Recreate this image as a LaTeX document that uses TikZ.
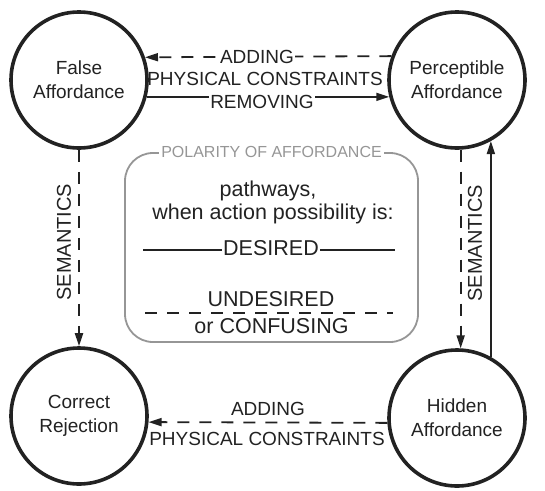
\documentclass[tikz,border=0pt]{standalone}
\usepackage{fontspec}
\setmainfont{Liberation Sans}
\usetikzlibrary{arrows.meta}

\definecolor{ink}{RGB}{34,34,34}
\definecolor{legendgray}{RGB}{150,150,150}

\tikzset{
	state/.style={draw=ink, line width=3.6pt, circle, minimum size=136pt, inner sep=0pt, align=center, text=ink, font=\fontsize{19}{24}\selectfont},
	pathway/.style={draw=ink, line width=1.8pt, -{Triangle[length=13pt,width=8pt]}},
	undesired/.style={dash pattern=on 12pt off 10pt},
	lbl/.style={text=ink, inner sep=1.5pt, font=\fontsize{19}{22}\selectfont},
	legendtext/.style={text=ink, inner sep=1pt, font=\fontsize{21.5}{24}\selectfont},
	sample/.style={draw=ink, line width=1.8pt}
}

\begin{document}
\begin{tikzpicture}[x=1pt, y=-1pt]
	\useasboundingbox (0,0) rectangle (545,490);

	\node [state] (false) at (79,80) {False\\Affordance};
	\node [state] (percept) at (457,80) {Perceptible\\Affordance};
	\node [state] (reject) at (79,416) {Correct\\Rejection};
	\node [state] (hidden) at (457,418) {Hidden\\Affordance};

	\draw [pathway, undesired] (percept.160.2) -- (false.19.8);
	\node [lbl, fill=white] (addtop) at (257,57) {ADDING};
	\node [lbl] (phystop) at (265,79) {PHYSICAL CONSTRAINTS};
	\draw [pathway] (false.-14.5) -- (percept.194.5);
	\node [lbl, fill=white] (removing) at (262,102) {REMOVING};

	\draw [pathway, undesired] (false.south) -- (reject.north);
	\node [lbl, rotate=90, font=\fontsize{20}{22}\selectfont] (semleft) at (64,242) {SEMANTICS};

	\draw [pathway, undesired] (percept.-87.5) -- (hidden.87.5);
	\draw [pathway] (hidden.61.7) -- (percept.-61.7);
	\node [lbl, rotate=90, font=\fontsize{20}{22}\selectfont] (semright) at (475,243) {SEMANTICS};

	\draw [pathway, undesired] (hidden.184.1) -- (reject.-5.8);
	\node [lbl] (addbot) at (268,409) {ADDING};
	\node [lbl] (physbot) at (267,439) {PHYSICAL CONSTRAINTS};

	\node [draw=legendgray, line width=1.8pt, rounded corners=28pt, minimum width=293pt, minimum height=189pt] (legend) at (271.5,247.5) {};
	\node [fill=white, inner sep=2pt, text=legendgray, font=\fontsize{16}{18}\selectfont] (title) at (legend.north) {POLARITY OF AFFORDANCE};

	\node [legendtext, anchor=base] (pathways) at (268,196) {pathways,};
	\node [legendtext, anchor=base] (whenis) at (273,219) {when action possibility is:};

	\coordinate (desleft) at (143,250);
	\coordinate (desright) at (395,250);
	\draw [sample] (desleft) -- (desright);
	\node [legendtext, anchor=base, fill=white] (desired) at (271,255) {DESIRED};

	\coordinate (undleft) at (145,313);
	\coordinate (undright) at (393,313);
	\draw [sample, undesired] (undleft) -- (undright);
	\node [legendtext, anchor=base] (undes) at (271,306.5) {UNDESIRED};
	\node [legendtext, anchor=base] (confusing) at (271.5,333) {or CONFUSING};
\end{tikzpicture}
\end{document}
